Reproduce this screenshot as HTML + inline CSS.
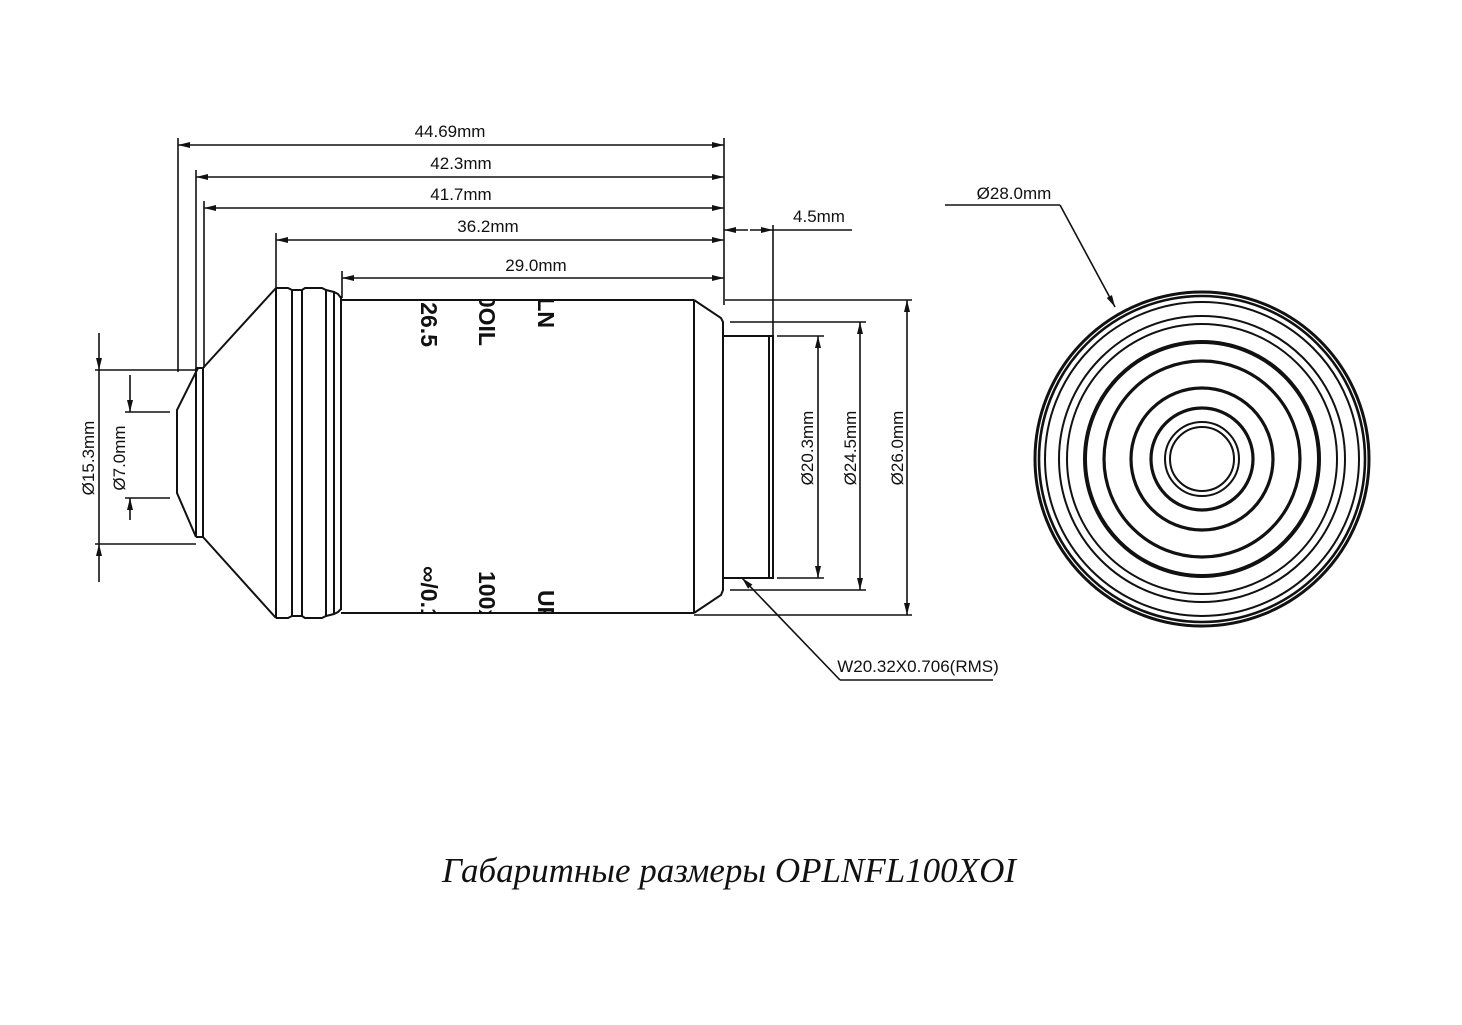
<!DOCTYPE html>
<html><head><meta charset="utf-8"><style>
html,body{margin:0;padding:0;background:#fff;}
svg{display:block;}
.d{font-family:"Liberation Sans Narrow","Liberation Sans",sans-serif;font-size:17px;fill:#111;}
.b{font-family:"Liberation Sans Narrow","Liberation Sans",sans-serif;font-size:23px;font-weight:bold;fill:#111;}
</style></head><body>
<svg width="1462" height="1025" viewBox="0 0 1462 1025" xmlns="http://www.w3.org/2000/svg">
<defs>
<marker id="a" viewBox="0 0 12 6" refX="12" refY="3" markerWidth="12" markerHeight="6" orient="auto-start-reverse" markerUnits="userSpaceOnUse"><path d="M0,0 L12,3 L0,6 z" fill="#111"/></marker>
<clipPath id="bc"><rect x="342" y="301" width="352" height="312"/></clipPath>
</defs>
<g stroke="#111" stroke-width="1.6" fill="none">
<line x1="178" y1="138" x2="178" y2="372"/>
<line x1="196" y1="170" x2="196" y2="368"/>
<line x1="204" y1="201" x2="204" y2="368"/>
<line x1="276" y1="233" x2="276" y2="288"/>
<line x1="342" y1="271" x2="342" y2="298"/>
<line x1="724" y1="138" x2="724" y2="305"/>
<line x1="773" y1="225" x2="773" y2="335"/>
<line x1="178" y1="145" x2="724" y2="145" marker-start="url(#a)" marker-end="url(#a)"/>
<line x1="196" y1="177" x2="724" y2="177" marker-start="url(#a)" marker-end="url(#a)"/>
<line x1="204" y1="208" x2="724" y2="208" marker-start="url(#a)" marker-end="url(#a)"/>
<line x1="276" y1="240" x2="724" y2="240" marker-start="url(#a)" marker-end="url(#a)"/>
<line x1="342" y1="278" x2="724" y2="278" marker-start="url(#a)" marker-end="url(#a)"/>
<line x1="724" y1="230" x2="748" y2="230" marker-start="url(#a)"/>
<line x1="750" y1="230" x2="773" y2="230" marker-end="url(#a)"/>
<line x1="773" y1="230" x2="852" y2="230"/>
<path d="M198,368 L177,410 L177,493 L196,537" stroke-width="2"/>
<line x1="196" y1="368" x2="196" y2="537" stroke-width="2"/>
<line x1="203" y1="368" x2="203" y2="537" stroke-width="2"/>
<line x1="196" y1="368" x2="203" y2="368" stroke-width="2"/>
<line x1="196" y1="537" x2="203" y2="537" stroke-width="2"/>
<line x1="203" y1="368" x2="276" y2="288" stroke-width="2"/>
<line x1="203" y1="537" x2="276" y2="618" stroke-width="2"/>
<line x1="276" y1="288" x2="276" y2="618" stroke-width="2"/>
<line x1="292" y1="290" x2="292" y2="616" stroke-width="2"/>
<line x1="302" y1="290" x2="302" y2="616" stroke-width="2"/>
<line x1="326" y1="290" x2="326" y2="616" stroke-width="2"/>
<line x1="334" y1="292" x2="334" y2="614" stroke-width="2"/>
<line x1="341" y1="296" x2="341" y2="610" stroke-width="2"/>
<path d="M276,288 L288,288 L292,290 L302,290 L305,288 L322,288 L326,290 L334,292 L338,294 L341,298" stroke-width="2"/>
<path d="M276,618 L288,618 L292,616 L302,616 L305,618 L322,618 L326,616 L334,614 L338,612 L341,609" stroke-width="2"/>
<line x1="341" y1="300" x2="694" y2="300" stroke-width="2"/>
<line x1="341" y1="613" x2="694" y2="613" stroke-width="2"/>
<line x1="694" y1="300" x2="694" y2="613" stroke-width="2"/>
<path d="M694,300 L721,318 L723,322 L723,590 L721,595 L694,613" stroke-width="2"/>
<rect x="723" y="336" width="50" height="242" stroke-width="2"/>
<line x1="769" y1="336" x2="769" y2="578" stroke-width="2"/>
<line x1="725" y1="300" x2="912" y2="300"/>
<line x1="730" y1="322" x2="866" y2="322"/>
<line x1="777" y1="336" x2="824" y2="336"/>
<line x1="777" y1="578" x2="824" y2="578"/>
<line x1="730" y1="590" x2="866" y2="590"/>
<line x1="694" y1="615" x2="912" y2="615"/>
<line x1="818" y1="336" x2="818" y2="578" marker-start="url(#a)" marker-end="url(#a)"/>
<line x1="860" y1="322" x2="860" y2="590" marker-start="url(#a)" marker-end="url(#a)"/>
<line x1="907" y1="300" x2="907" y2="615" marker-start="url(#a)" marker-end="url(#a)"/>
<line x1="840" y1="680" x2="742" y2="578" marker-end="url(#a)"/>
<line x1="840" y1="680" x2="993" y2="680"/>
<line x1="95" y1="370" x2="196" y2="370"/>
<line x1="95" y1="544" x2="196" y2="544"/>
<line x1="125" y1="412" x2="170" y2="412"/>
<line x1="125" y1="498" x2="170" y2="498"/>
<line x1="99" y1="333" x2="99" y2="370" marker-end="url(#a)"/>
<line x1="99" y1="582" x2="99" y2="544" marker-end="url(#a)"/>
<line x1="99" y1="370" x2="99" y2="544"/>
<line x1="130" y1="375" x2="130" y2="412" marker-end="url(#a)"/>
<line x1="130" y1="520" x2="130" y2="498" marker-end="url(#a)"/>
<g stroke-width="2.4">
<circle cx="1202" cy="459" r="167" stroke-width="3"/>
<circle cx="1202" cy="459" r="163" stroke-width="2.6"/>
<circle cx="1202" cy="459" r="157" stroke-width="2"/>
<circle cx="1202" cy="459" r="143" stroke-width="2"/>
<circle cx="1202" cy="459" r="135" stroke-width="2"/>
<circle cx="1202" cy="459" r="117" stroke-width="4"/>
<circle cx="1202" cy="459" r="98" stroke-width="3.2"/>
<circle cx="1202" cy="459" r="71" stroke-width="3.2"/>
<circle cx="1202" cy="459" r="51" stroke-width="3.2"/>
<circle cx="1202" cy="459" r="37" stroke-width="2"/>
<circle cx="1202" cy="459" r="32" stroke-width="2"/>
</g>
<line x1="945" y1="205" x2="1060" y2="205"/>
<line x1="1060" y1="205" x2="1115" y2="307" marker-end="url(#a)"/>
</g>
<g class="d" text-anchor="middle">
<text x="450" y="137">44.69mm</text>
<text x="461" y="169">42.3mm</text>
<text x="461" y="200">41.7mm</text>
<text x="488" y="232">36.2mm</text>
<text x="536" y="271">29.0mm</text>
<text x="819" y="222">4.5mm</text>
<text x="1014" y="199">Ø28.0mm</text>
<text x="918" y="672">W20.32X0.706(RMS)</text>
<text transform="translate(813,448) rotate(-90)">Ø20.3mm</text>
<text transform="translate(856,448) rotate(-90)">Ø24.5mm</text>
<text transform="translate(903,448) rotate(-90)">Ø26.0mm</text>
<text transform="translate(94,458) rotate(-90)">Ø15.3mm</text>
<text transform="translate(125,458) rotate(-90)">Ø7.0mm</text>
</g>
<g class="b" clip-path="url(#bc)">
<text transform="translate(421,347) rotate(90)" text-anchor="end">FN26.5</text>
<text transform="translate(479,346) rotate(90)" text-anchor="end">1.30OIL</text>
<text transform="translate(538,328) rotate(90)" text-anchor="end">PLFLN</text>
<text transform="translate(421,566) rotate(90)">∞/0.17</text>
<text transform="translate(479,571) rotate(90)">100x</text>
<text transform="translate(538,590) rotate(90)">UPL</text>
</g>
<text x="729" y="882" text-anchor="middle" font-family="Liberation Serif, serif" font-style="italic" font-size="35" fill="#111">Габаритные размеры OPLNFL100XOI</text>
</svg>
</body></html>
